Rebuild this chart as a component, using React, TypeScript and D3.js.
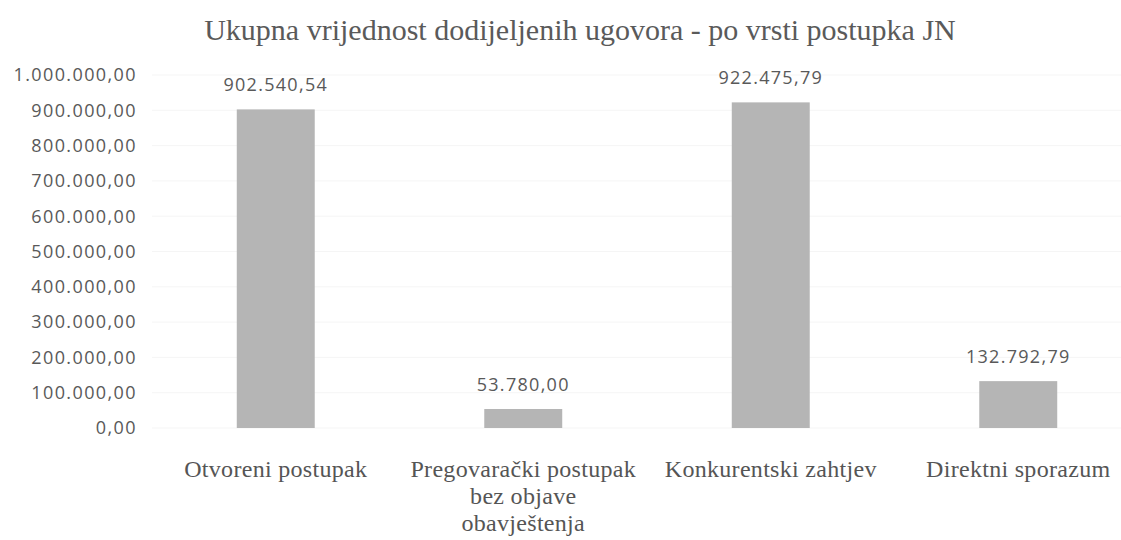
import React, { useEffect, useRef } from 'react';
import * as d3 from 'd3';

const categories = [
  ['Otvoreni postupak'],
  ['Pregovarački postupak', 'bez objave', 'obavještenja'],
  ['Konkurentski zahtjev'],
  ['Direktni sporazum'],
];
const values = [902540.54, 53780.0, 922475.79, 132792.79];
const yTicks = [0, 100000, 200000, 300000, 400000, 500000, 600000, 700000, 800000, 900000, 1000000];
const title = 'Ukupna vrijednost dodijeljenih ugovora - po vrsti postupka JN';

const fmt = (v: number) => {
  const [i, d] = v.toFixed(2).split('.');
  return i.replace(/\B(?=(\d{3})+(?!\d))/g, '.') + ',' + d;
};

export default function App() {
  const ref = useRef<SVGSVGElement>(null);
  const width = 1121;
  const height = 540;

  useEffect(() => {
    const svg = d3.select(ref.current);
    svg.selectAll('*').remove();

    const x = d3.scaleBand<number>().domain(d3.range(values.length)).range([152, 1142]).paddingInner(0.685).paddingOuter(0.3425);
    const y = d3.scaleLinear().domain([0, 1000000]).range([428, 75]);

    svg.append('text')
      .attr('x', 580).attr('y', 40)
      .attr('text-anchor', 'middle')
      .style('font-family', 'Liberation Serif, serif')
      .style('font-size', '30px')
      .attr('fill', '#5a5a5a')
      .text(title);

    // faint gridlines
    svg.append('g').selectAll('line')
      .data(yTicks)
      .enter().append('line')
      .attr('x1', 152).attr('x2', 1121)
      .attr('y1', d => y(d)).attr('y2', d => y(d))
      .attr('stroke', '#f5f5f5');

    svg.append('g').selectAll('text')
      .data(yTicks)
      .enter().append('text')
      .attr('x', 137).attr('y', d => y(d))
      .attr('dy', '0.35em')
      .attr('text-anchor', 'end')
      .style('font-family', 'Open Sans, sans-serif')
      .style('font-size', '18px')
      .style('letter-spacing', '1.4px')
      .attr('fill', '#595959')
      .text(d => fmt(d));

    svg.append('g').selectAll('rect')
      .data(values)
      .enter().append('rect')
      .attr('x', (d, i) => x(i)!)
      .attr('width', x.bandwidth())
      .attr('y', d => y(d))
      .attr('height', d => y(0) - y(d))
      .attr('fill', '#b5b5b5');

    svg.append('g').selectAll('text')
      .data(values)
      .enter().append('text')
      .attr('x', (d, i) => x(i)! + x.bandwidth() / 2)
      .attr('y', d => y(d) - 18)
      .attr('text-anchor', 'middle')
      .style('font-family', 'Open Sans, sans-serif')
      .style('font-size', '18px')
      .style('letter-spacing', '1.3px')
      .attr('fill', '#595959')
      .text(d => fmt(d));

    const cat = svg.append('g').selectAll('text')
      .data(categories)
      .enter().append('text')
      .attr('x', (d, i) => x(i)! + x.bandwidth() / 2)
      .attr('y', 477)
      .attr('text-anchor', 'middle')
      .style('font-family', 'Liberation Serif, serif')
      .style('font-size', '24px')
      .style('letter-spacing', '0.3px')
      .attr('fill', '#555');
    cat.selectAll('tspan')
      .data(d => d)
      .enter().append('tspan')
      .attr('x', function () { return (this.parentNode as SVGTextElement).getAttribute('x'); })
      .attr('dy', (d, i) => (i === 0 ? 0 : 27))
      .text(d => d);
  }, []);

  return (
    <div>
      <svg ref={ref} width={width} height={height} style={{ position: 'absolute', left: 0, top: 0 }} />
    </div>
  );
}
